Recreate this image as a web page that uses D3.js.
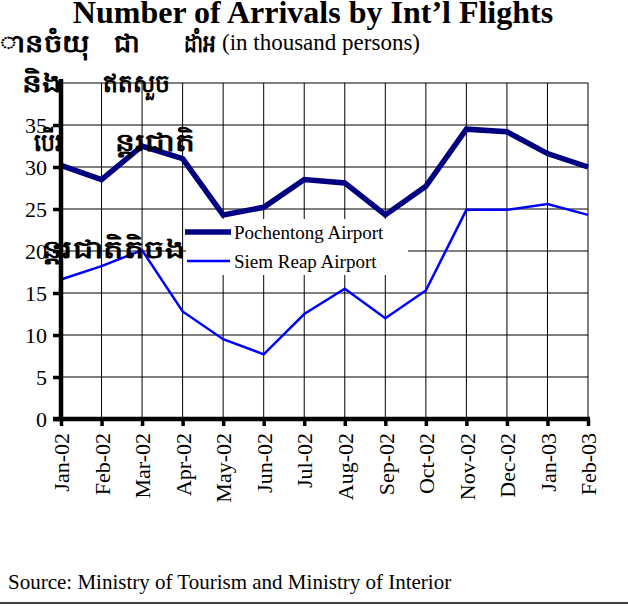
<!DOCTYPE html>
<html><head><meta charset="utf-8">
<script src="https://cdn.jsdelivr.net/npm/d3@7"></script>
<style>body{margin:0;background:#fff}svg{display:block}</style>
</head><body><svg id="c" width="628" height="606"></svg>
<script>
const months=["Jan-02","Feb-02","Mar-02","Apr-02","May-02","Jun-02","Jul-02","Aug-02","Sep-02","Oct-02","Nov-02","Dec-02","Jan-03","Feb-03"];
const pochentong=[30.2,28.5,32.5,31.0,24.3,25.2,28.5,28.1,24.3,27.7,34.5,34.2,31.6,30.0];
const siemReap=[16.6,18.2,20.1,12.8,9.5,7.7,12.5,15.5,12.0,15.3,24.9,24.9,25.6,24.3];
const yTicks=[0,5,10,15,20,25,30,35];
const seriesNames=["Pochentong Airport","Siem Reap Airport"];
const khmerTexts=[
 {t:"ានចំយុ",x:0,y:52,w:90},{t:"ជា",x:114,y:52,w:26},{t:"ដាំអ",x:184,y:52,w:32},
 {t:"និង",x:22,y:92,w:40},{t:"ឥតសួច",x:103,y:92,w:67},
 {t:"បើរ",x:34,y:151,w:28},{t:"ន្តរជាតិ",x:115,y:151,w:80},
 {t:"ន្តរជាតិតិចង",x:42,y:258,w:143}
];
const SERIF='"Liberation Serif","Times New Roman",serif';

const svg=d3.select("#c");
const x=d3.scalePoint().domain(months).range([61,588]);
const y=d3.scaleLinear().domain([0,40]).range([419,83]);

// gridlines
const g=svg.append("g");
g.selectAll("line.h").data(d3.range(0,45,5)).join("line")
 .attr("x1",61).attr("x2",588).attr("y1",d=>y(d)).attr("y2",d=>y(d)).attr("stroke","#000").attr("stroke-width",1);
g.selectAll("line.v").data(months).join("line")
 .attr("x1",d=>x(d)).attr("x2",d=>x(d)).attr("y1",y(40)).attr("y2",y(0)).attr("stroke","#000").attr("stroke-width",1);

// lines
const line=d3.line().x((d,i)=>x(months[i])).y(d=>y(d));
svg.append("path").datum(siemReap).attr("d",line).attr("fill","none").attr("stroke","#0000ff").attr("stroke-width",2.5);
svg.append("path").datum(pochentong).attr("d",line).attr("fill","none").attr("stroke","#000080").attr("stroke-width",5.5);

// legend
const lg=svg.append("g");
lg.append("rect").attr("x",186).attr("y",219).attr("width",222).attr("height",56).attr("fill","#fff");
lg.append("line").attr("x1",185).attr("x2",231).attr("y1",232).attr("y2",232).attr("stroke","#000080").attr("stroke-width",5.5);
lg.append("line").attr("x1",187).attr("x2",230).attr("y1",261).attr("y2",261).attr("stroke","#0000ff").attr("stroke-width",2.5);
lg.append("text").attr("x",234).attr("y",239).style("font-family",SERIF).style("font-size","19px").text(seriesNames[0]);
lg.append("text").attr("x",234).attr("y",268).style("font-family",SERIF).style("font-size","19px").text(seriesNames[1]);

// axes
const ya=svg.append("g").attr("transform","translate(61,0)").call(d3.axisLeft(y).tickValues(yTicks).tickSize(8).tickPadding(6));
ya.select(".domain").attr("d","M0,"+(y(40)-4)+"V"+y(0)).attr("stroke-width",4.5);
ya.selectAll(".tick line").attr("stroke-width",3.5);
ya.selectAll("text").style("font-family",SERIF).style("font-size","22px");
const xa=svg.append("g").attr("transform","translate(0,419)").call(d3.axisBottom(x).tickSize(7).tickPadding(8));
xa.select(".domain").attr("d","M53,0H590").attr("stroke-width",4.5);
xa.selectAll(".tick line").attr("stroke-width",3.5);
xa.selectAll("text").style("font-family",SERIF).style("font-size","22px")
 .attr("transform","rotate(-90)").attr("text-anchor","end").attr("dy","0.35em").attr("x",-14).attr("y",0);

// khmer overlay texts
svg.append("g").selectAll("text").data(khmerTexts).join("text")
 .attr("x",d=>d.x).attr("y",d=>d.y).attr("textLength",d=>d.w).attr("lengthAdjust","spacingAndGlyphs")
 .style("font-size","25px").style("font-weight","bold").style("font-family","sans-serif").text(d=>d.t);

// titles
svg.append("text").attr("x",313).attr("y",23).attr("text-anchor","middle").style("font-family",SERIF).style("font-size","32px").style("font-weight","bold").text("Number of Arrivals by Int’l Flights");
svg.append("text").attr("x",420).attr("y",50).attr("text-anchor","end").style("font-family",SERIF).style("font-size","23px").text("(in thousand persons)");
svg.append("text").attr("x",8).attr("y",589).style("font-family",SERIF).style("font-size","21px").text("Source: Ministry of Tourism and Ministry of Interior");
svg.append("line").attr("x1",0).attr("x2",628).attr("y1",603).attr("y2",603).attr("stroke","#000").attr("stroke-width",1.5);
</script></body></html>
